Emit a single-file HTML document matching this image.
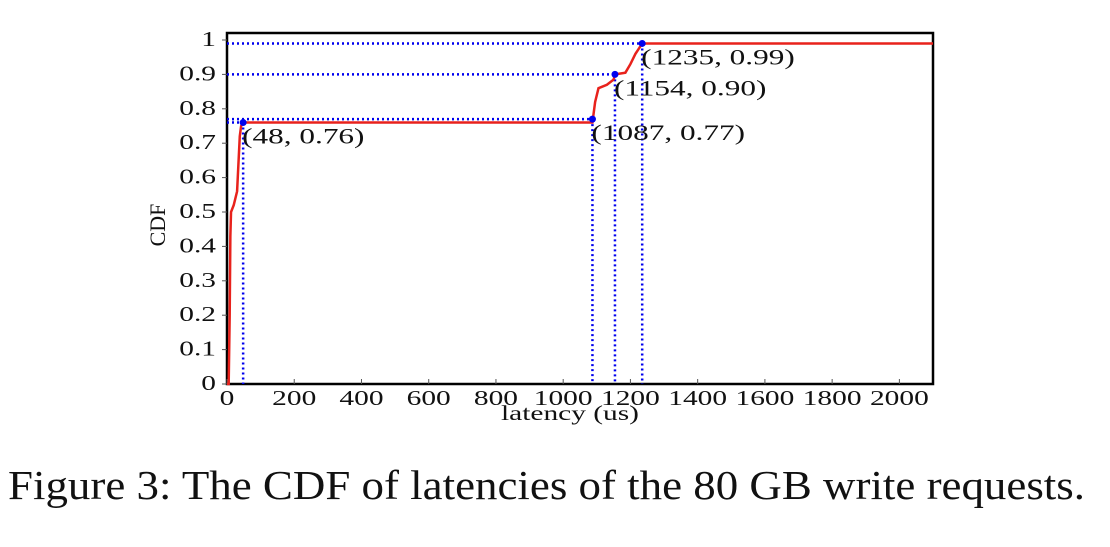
<!DOCTYPE html>
<html><head><meta charset="utf-8"><style>
body{margin:0;background:#fff;width:1110px;height:542px;overflow:hidden}
svg text{font-family:"Liberation Serif",serif;fill:#111}
</style></head><body>
<svg width="1110" height="542">
<g id="g"></g>
<text x="8" y="499" font-size="41" textLength="1077" lengthAdjust="spacingAndGlyphs">Figure 3: The CDF of latencies of the 80 GB write requests.</text>
</svg>
<script>
const xTicks=[0,200,400,600,800,1000,1200,1400,1600,1800,2000];
const yTicks=[0,0.1,0.2,0.3,0.4,0.5,0.6,0.7,0.8,0.9,1];
const yTickLabels=["0","0.1","0.2","0.3","0.4","0.5","0.6","0.7","0.8","0.9","1"];
const latency=[0,5,8,10,12,20,30,38,42,48,1087,1095,1105,1130,1150,1154,1185,1200,1215,1235,2100];
const cdf=[0,0,0.2,0.43,0.5,0.52,0.56,0.72,0.75,0.76,0.76,0.82,0.86,0.87,0.885,0.90,0.905,0.93,0.96,0.99,0.99];
const markX=[48,1087,1154,1235];
const markY=[0.76,0.77,0.90,0.99];
const markLabels=["(48, 0.76)","(1087, 0.77)","(1154, 0.90)","(1235, 0.99)"];
const L=227,R=933,T=33,B=384,XMAX=2100;
const sx=v=>L+v*(R-L)/XMAX, sy=v=>B-v*344;
const NS="http://www.w3.org/2000/svg",g=document.getElementById('g');
function el(t,a,txt){const e=document.createElementNS(NS,t);for(const k in a)e.setAttribute(k,a[k]);if(txt!==undefined)e.textContent=txt;g.appendChild(e);return e;}
function widen(e,f){const w=e.getComputedTextLength();e.setAttribute('textLength',w*f);e.setAttribute('lengthAdjust','spacingAndGlyphs');}
let f=el('rect',{x:L,y:T,width:R-L,height:B-T,fill:'none',stroke:'#000','stroke-width':2.5});

yTicks.forEach((v,i)=>{
 let t=el('line',{x1:L-5,x2:L,y1:sy(v),y2:sy(v),stroke:'#555'});
 
 let l=el('text',{x:216,y:sy(v)+6,'font-size':21,'text-anchor':'end'},yTickLabels[i]);
 
 widen(l,1.4);
});
xTicks.forEach(v=>{
 let t=el('line',{x1:sx(v),x2:sx(v),y1:B,y2:B-5,stroke:'#555'});
 
 let l=el('text',{x:sx(v),y:405,'font-size':21,'text-anchor':'middle'},String(v));
 
 widen(l,1.4);
});
let xt=el('text',{x:570,y:420,'font-size':21,'text-anchor':'middle'},'latency (us)');

widen(xt,1.4);
let yt=el('text',{x:0,y:0,'font-size':22,'text-anchor':'middle',transform:'translate(165,225) rotate(-90)'},'CDF');

markX.forEach((x,i)=>{
 const y=markY[i];
 let v=el('line',{x1:sx(x),x2:sx(x),y1:sy(y),y2:B,stroke:'#0000ee','stroke-width':2.5,'stroke-dasharray':'2 3'});
 
 let h=el('line',{x1:L,x2:sx(x),y1:sy(y),y2:sy(y),stroke:'#0000ee','stroke-width':2.5,'stroke-dasharray':'2 3'});
 
});
let p=el('polyline',{points:latency.map((x,i)=>sx(x)+','+sy(cdf[i])).join(' '),fill:'none',stroke:'#e8221c','stroke-width':2.5});

markX.forEach((x,i)=>{
 let c=el('circle',{cx:sx(x),cy:sy(markY[i]),r:3.5,fill:'#0000ee'});
 
 let t=el('text',{x:sx(x)-1,y:sy(markY[i])+21,'font-size':22},markLabels[i]);
 
 widen(t,1.42);
});
</script>
</body></html>
